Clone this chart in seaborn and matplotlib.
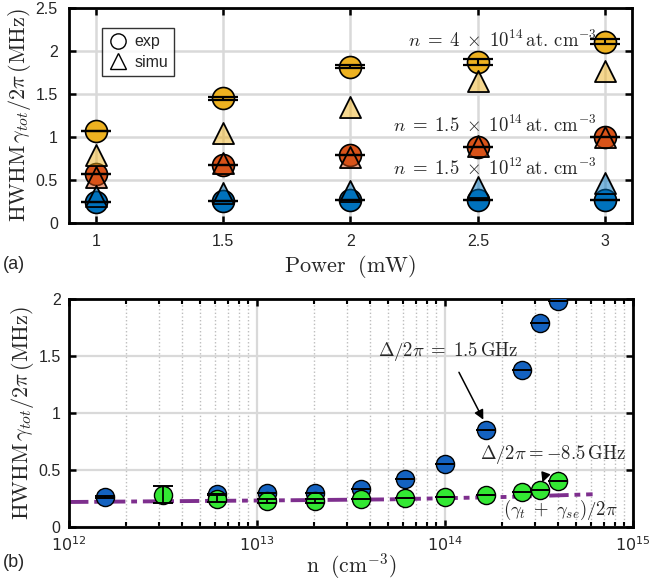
import numpy as np
import pandas as pd
import matplotlib
matplotlib.use("Agg")
import matplotlib.pyplot as plt
from matplotlib.lines import Line2D
from matplotlib.colors import to_rgba
from matplotlib.ticker import FixedLocator, LogLocator, NullFormatter
import seaborn as sns

# ---------------- data: panel (a) ----------------
power = [1.0, 1.5, 2.0, 2.5, 3.0]
exp_4e14 = [1.07, 1.45, 1.82, 1.87, 2.11]
err_4e14 = [0.005, 0.015, 0.015, 0.035, 0.03]
simu_4e14 = [0.79, 1.05, 1.35, 1.65, 1.77]
exp_15e14 = [0.57, 0.68, 0.79, 0.89, 1.00]
err_15e14 = [0.0, 0.0, 0.0, 0.0, 0.0]
simu_15e14 = [0.53, 0.70, 0.77, 0.90, 1.00]
exp_15e12 = [0.25, 0.26, 0.27, 0.27, 0.27]
err_15e12 = [0.0, 0.0, 0.0, 0.0, 0.0]
simu_15e12 = [0.31, 0.35, 0.37, 0.42, 0.47]
labels_a = [r"$n\;=\;4\;\times\;10^{14}\,\mathrm{at.\,cm^{-3}}$",
            r"$n\;=\;1.5\;\times\;10^{14}\,\mathrm{at.\,cm^{-3}}$",
            r"$n\;=\;1.5\;\times\;10^{12}\,\mathrm{at.\,cm^{-3}}$"]

# ---------------- data: panel (b) ----------------
n_blue = [1.55e12, 6.1e12, 1.13e13, 2.03e13, 3.56e13, 6.1e13, 1.0e14, 1.65e14, 2.58e14, 3.2e14, 4.0e14]
y_blue = [0.26, 0.29, 0.30, 0.30, 0.33, 0.42, 0.55, 0.85, 1.38, 1.79, 1.98]
e_blue = [0.01, 0.0, 0.0, 0.0, 0.0, 0.0, 0.0, 0.0, 0.0, 0.0, 0.0]
n_green = [3.17e12, 6.1e12, 1.13e13, 2.03e13, 3.56e13, 6.1e13, 1.0e14, 1.65e14, 2.58e14, 3.2e14, 4.0e14]
y_green = [0.28, 0.245, 0.225, 0.225, 0.245, 0.25, 0.265, 0.28, 0.305, 0.325, 0.40]
e_green = [0.075, 0.03, 0.02, 0.015, 0.0, 0.0, 0.0, 0.0, 0.0, 0.0, 0.0]
n_theory = [1e12, 1e13, 5e13, 2.2e14, 6.1e14]
y_theory = [0.217, 0.230, 0.240, 0.262, 0.285]
xticks_b = [1e12, 1e13, 1e14, 1e15]
xticklabels_b = [r"$10^{12}$", r"$10^{13}$", r"$10^{14}$", r"$10^{15}$"]

# ---------------- style ----------------
sns.set_theme(style="white")
plt.rcParams["font.family"] = ["Liberation Sans", "DejaVu Sans"]
plt.rcParams["mathtext.fontset"] = "cm"
plt.rcParams["axes.linewidth"] = 2.0
plt.rcParams["xtick.direction"] = "in"
plt.rcParams["ytick.direction"] = "in"

YEL, ORA, BLU = "#EDB120", "#D95319", "#0072BD"
BLU2, GRN, PUR = "#1462C0", "#33E833", "#7E2F8E"

fig = plt.figure(figsize=(6.52, 5.82), dpi=100)
ax1 = fig.add_axes([0.1058, 0.6168, 0.8635, 0.3692])
ax2 = fig.add_axes([0.1058, 0.095, 0.8650, 0.3913])

# ---------------- panel (a) ----------------
series = [(exp_4e14, err_4e14, simu_4e14, YEL),
          (exp_15e14, err_15e14, simu_15e14, ORA),
          (exp_15e12, err_15e12, simu_15e12, BLU)]
for ex, er, si, c in series:
    df = pd.DataFrame({"power": power, "exp": ex, "simu": si})
    sns.scatterplot(data=df, x="power", y="exp", ax=ax1, marker="o", s=250,
                    color=c, edgecolor="black", linewidth=1.2, zorder=3, legend=False)
    sns.scatterplot(data=df, x="power", y="simu", ax=ax1, marker="^", s=230,
                    color=to_rgba(c, 0.5), edgecolor="black", linewidth=1.3, zorder=4, legend=False)
    ax1.errorbar(power, ex, yerr=er, fmt="none", ecolor="black", elinewidth=1.5,
                 capsize=10.6, capthick=1.6, zorder=5)

ax1.set_xlim(0.895, 3.105)
ax1.set_ylim(0, 2.5)
ax1.set_xticks([1, 1.5, 2, 2.5, 3])
ax1.set_xticklabels(["1", "1.5", "2", "2.5", "3"])
ax1.set_yticks([0, 0.5, 1, 1.5, 2, 2.5])
ax1.set_yticklabels(["0", "0.5", "1", "1.5", "2", "2.5"])
ax1.grid(True, color="#d9d9d9", linewidth=1.8)
ax1.set_axisbelow(True)
ax1.tick_params(axis="both", which="major", direction="in", length=5, width=1.8,
                labelsize=11.5, top=True, right=True, bottom=True, left=True,
                pad=8, color="black")
for s in ax1.spines.values():
    s.set_color("black")
ax1.set_xlabel(r"$\mathrm{Power\ \ (mW)}$", fontsize=16, labelpad=3)
ax1.set_ylabel(r"$\mathrm{HWHM}\,\gamma_{tot}/2\pi\,(\mathrm{MHz})$", fontsize=16, labelpad=2)

ax1.text(2.965, 2.12, labels_a[0], ha="right", va="center", fontsize=13.5)
ax1.text(2.965, 1.14, labels_a[1], ha="right", va="center", fontsize=13.5)
ax1.text(2.965, 0.64, labels_a[2], ha="right", va="center", fontsize=13.5)

handles = [Line2D([], [], marker="o", linestyle="none", markersize=11,
                  markerfacecolor="white", markeredgecolor="black", markeredgewidth=1.0),
           Line2D([], [], marker="^", linestyle="none", markersize=11,
                  markerfacecolor="white", markeredgecolor="black", markeredgewidth=1.0)]
leg = ax1.legend(handles, ["exp", "simu"], loc="upper left", bbox_to_anchor=(0.045, 0.945),
                 fontsize=11.5, frameon=True, fancybox=False, edgecolor="black",
                 handletextpad=0.4, borderpad=0.4, labelspacing=0.35, handlelength=1.2)
leg.get_frame().set_linewidth(1.0)

# ---------------- panel (b) ----------------
ax2.set_xscale("log")
sns.lineplot(x=n_theory, y=y_theory, ax=ax2, color=PUR, linewidth=2.8, zorder=2)
ax2.lines[-1].set_dashes([5, 1.5, 1.5, 1.5])
sns.scatterplot(x=n_blue, y=y_blue, ax=ax2, marker="o", s=170, color=BLU2,
                edgecolor="black", linewidth=1.0, zorder=3, legend=False)
sns.scatterplot(x=n_green, y=y_green, ax=ax2, marker="o", s=170, color=GRN,
                edgecolor="black", linewidth=1.0, zorder=4, legend=False)
ax2.errorbar(n_blue, y_blue, yerr=e_blue, fmt="none", ecolor="black", elinewidth=1.3,
             capsize=7, capthick=1.4, zorder=5)
ax2.errorbar(n_green, y_green, yerr=e_green, fmt="none", ecolor="black", elinewidth=1.3,
             capsize=7, capthick=1.4, zorder=5)

ax2.set_xlim(1e12, 1e15)
ax2.set_ylim(0, 2)
ax2.xaxis.set_major_locator(FixedLocator(xticks_b))
ax2.set_xticklabels(xticklabels_b, math_fontfamily="dejavusans")
ax2.xaxis.set_minor_locator(LogLocator(base=10, subs=np.arange(2, 10), numticks=20))
ax2.xaxis.set_minor_formatter(NullFormatter())
ax2.set_yticks([0, 0.5, 1, 1.5, 2])
ax2.set_yticklabels(["0", "0.5", "1", "1.5", "2"])
ax2.grid(True, which="major", color="#d9d9d9", linewidth=1.6)
ax2.grid(True, which="minor", axis="x", color="#bdbdbd", linestyle=":", linewidth=1.0)
ax2.set_axisbelow(True)
ax2.tick_params(axis="both", which="major", direction="in", length=5, width=1.8,
                labelsize=11.5, top=True, right=True, bottom=True, left=True,
                pad=6, color="black")
ax2.tick_params(axis="x", which="minor", direction="in", length=3.5, width=1.5,
                top=True, bottom=True, color="black")
for s in ax2.spines.values():
    s.set_color("black")
ax2.set_xlabel(r"$\mathrm{n\ \ (cm^{-3})}$", fontsize=15.5, labelpad=-2)
ax2.set_ylabel(r"$\mathrm{HWHM}\,\gamma_{tot}/2\pi\,(\mathrm{MHz})$", fontsize=16, labelpad=2)

ax2.annotate(r"$\Delta/2\pi\;=\;1.5\,\mathrm{GHz}$", xy=(1.6e14, 0.94), xytext=(1.04e14, 1.54),
             ha="center", va="center", fontsize=13.5,
             arrowprops=dict(arrowstyle="-|>", color="black", lw=1.1, mutation_scale=14,
                             shrinkA=5, shrinkB=0))
ax2.annotate(r"$\Delta/2\pi = {-}8.5\,\mathrm{GHz}$", xy=(3.3e14, 0.39), xytext=(3.73e14, 0.63),
             ha="center", va="center", fontsize=13.5,
             arrowprops=dict(arrowstyle="-|>", color="black", lw=1.1, mutation_scale=14,
                             shrinkA=6, shrinkB=0))
ax2.text(4.1e14, 0.15, r"$(\gamma_t\;+\;\gamma_{se})/2\pi$", ha="center", va="center", fontsize=13.5)

fig.text(0.005, 0.545, "(a)", fontsize=13, ha="left", va="center")
fig.text(0.005, 0.033, "(b)", fontsize=13, ha="left", va="center")

fig.savefig("out.png", dpi=100)
